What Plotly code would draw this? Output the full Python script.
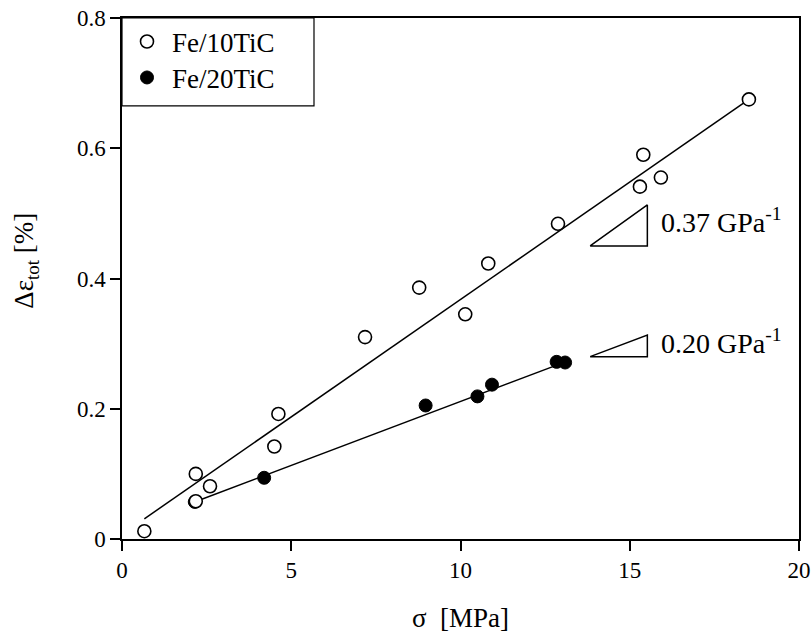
import plotly.graph_objects as go

# Fe/10TiC data (open circles)
x10 = [0.66, 2.18, 2.18, 2.6, 4.5, 4.62, 7.18, 8.78, 10.14, 10.82, 12.88, 15.3, 15.4, 15.92, 18.52]
y10 = [0.012, 0.100, 0.058, 0.081, 0.142, 0.192, 0.310, 0.386, 0.345, 0.423, 0.484, 0.541, 0.590, 0.555, 0.675]
# Fe/20TiC data (filled circles)
x20 = [2.15, 4.2, 8.97, 10.5, 10.93, 12.84, 13.09]
y20 = [0.057, 0.094, 0.205, 0.219, 0.237, 0.272, 0.271]
# fitted lines (endpoints)
fit10_x = [0.66, 18.52]
fit10_y = [0.031, 0.675]
fit20_x = [2.2, 13.1]
fit20_y = [0.058, 0.272]
# slope triangles
tri37_x = [13.83, 15.52, 15.52, 13.83]
tri37_y = [0.450, 0.513, 0.450, 0.450]
tri20_x = [13.83, 15.52, 15.52, 13.83]
tri20_y = [0.280, 0.313, 0.280, 0.280]
slope_labels = ["0.37 GPa<sup>-1</sup>", "0.20 GPa<sup>-1</sup>"]
slope_label_y = [0.489, 0.304]
slope_label_x = 15.85

xticks = [0, 5, 10, 15, 20]
yticks = [0, 0.2, 0.4, 0.6, 0.8]
ytick_text = ["0", "0.2", "0.4", "0.6", "0.8"]
x_title = "σ  [MPa]"
y_title = "Δε<sub>tot</sub> [%]"

FONT = "Liberation Serif"
BIG = 27

fig = go.Figure()
for tx, ty in [(fit10_x, fit10_y), (fit20_x, fit20_y), (tri37_x, tri37_y), (tri20_x, tri20_y)]:
    fig.add_trace(go.Scatter(x=tx, y=ty, mode="lines", line=dict(color="black", width=1.5),
                             showlegend=False, hoverinfo="skip"))

fig.add_trace(go.Scatter(x=x20, y=y20, mode="markers", name="Fe/20TiC", legend="legend2",
                         marker=dict(symbol="circle", size=13, color="black",
                                     line=dict(color="black", width=1))))
fig.add_trace(go.Scatter(x=x10, y=y10, mode="markers", name="Fe/10TiC", legend="legend",
                         marker=dict(symbol="circle", size=13, color="white",
                                     line=dict(color="black", width=1.6))))

for lbl, ly in zip(slope_labels, slope_label_y):
    fig.add_annotation(x=slope_label_x, y=ly, text=lbl, showarrow=False,
                       xanchor="left", yanchor="middle", font=dict(family=FONT, size=28, color="black"))

# axis titles
fig.add_annotation(xref="paper", yref="paper", x=0.5, y=-0.152, text=x_title, showarrow=False,
                   xanchor="center", yanchor="middle", font=dict(family=FONT, size=BIG, color="black"))
fig.add_annotation(xref="paper", yref="paper", x=-0.142, y=0.534, text=y_title, showarrow=False,
                   textangle=-90, xanchor="center", yanchor="middle",
                   font=dict(family=FONT, size=BIG, color="black"))

# legend frame
fig.add_shape(type="rect", xref="paper", yref="paper", x0=0, x1=0.2836, y0=0.8313, y1=1,
              line=dict(color="black", width=1.2), fillcolor="rgba(0,0,0,0)")

axis_common = dict(showline=True, linecolor="black", linewidth=1.5, mirror=True,
                   ticks="outside", ticklen=10, tickwidth=1.5, tickcolor="black",
                   showgrid=False, zeroline=False, automargin=False,
                   tickfont=dict(family=FONT, size=23, color="black"))

leg_common = dict(x=0, xanchor="left", yanchor="middle", bgcolor="rgba(0,0,0,0)",
                  borderwidth=0, font=dict(family=FONT, size=BIG, color="black"), itemwidth=40)

fig.update_layout(
    width=812, height=635,
    margin=dict(l=122, r=13, t=18, b=96, autoexpand=False),
    plot_bgcolor="white", paper_bgcolor="white",
    xaxis=dict(range=[0, 20], tickvals=xticks, **axis_common),
    yaxis=dict(range=[0, 0.8], tickvals=yticks, ticktext=ytick_text, **axis_common),
    legend=dict(y=0.954, **leg_common),
    legend2=dict(y=0.885, **leg_common),
    showlegend=True,
)

fig.write_html("out.html")
